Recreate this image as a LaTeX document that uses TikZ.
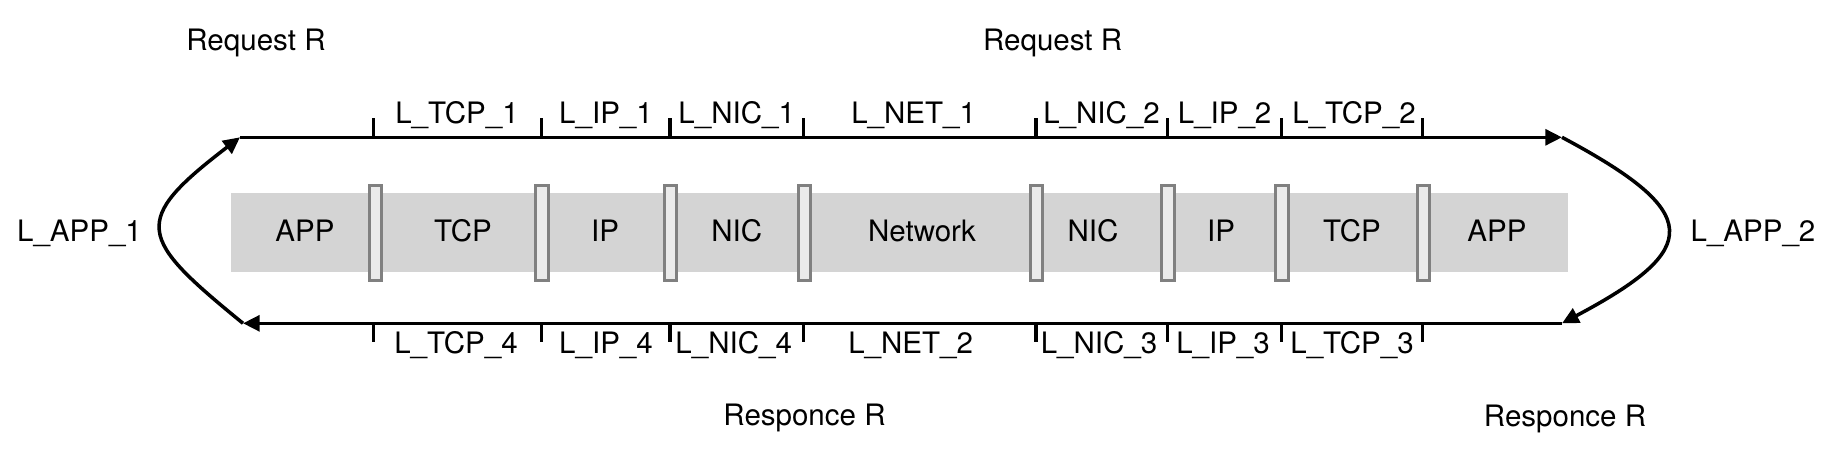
\documentclass[tikz,border=0pt]{standalone}
\usepackage{fontspec}
\setmainfont{TeX Gyre Heros}
\usetikzlibrary{arrows.meta}
\definecolor{bandgray}{HTML}{D4D4D4}
\definecolor{sepfill}{HTML}{EBEBEB}
\definecolor{sepline}{HTML}{808080}
\begin{document}
\begin{tikzpicture}[x=0.02cm,y=-0.02cm,
  flow/.style={line width=2pt,-{Triangle[length=9.5pt,width=9pt]}},
  tickmark/.style={line width=2pt},
  sepbox/.style={draw=sepline,fill=sepfill,line width=1.7pt,minimum width=0.246cm,minimum height=1.91cm,inner sep=0pt},
  lbl/.style={anchor=base,inner sep=0pt,font=\fontsize{16.8}{20}\selectfont}]
 \useasboundingbox (0,0) rectangle (1834,458);
 % stack
 \fill[bandgray] (231,193) rectangle (1568,271.5);
 \node[sepbox] (sep1) at (375.5,233){};
 \node[sepbox] (sep2) at (542,233){};
 \node[sepbox] (sep3) at (670.7,233){};
 \node[sepbox] (sep4) at (804.4,233){};
 \node[sepbox] (sep5) at (1036.3,233){};
 \node[sepbox] (sep6) at (1168,233){};
 \node[sepbox] (sep7) at (1282,233){};
 \node[sepbox] (sep8) at (1423.3,233){};
 \node[lbl] (app1) at (305,241.7){APP};
 \node[lbl] (tcp1) at (463,241.7){TCP};
 \node[lbl] (ip1) at (605,241.7){IP};
 \node[lbl] (nic1) at (736.7,241.7){NIC};
 \node[lbl] (net) at (922,241.7){Network};
 \node[lbl] (nic2) at (1093,241.7){NIC};
 \node[lbl] (ip2) at (1221,241.7){IP};
 \node[lbl] (tcp2) at (1352,241.7){TCP};
 \node[lbl] (app2) at (1497,241.7){APP};
 % request / responce paths
 \coordinate (tl) at (240,137.3);
 \coordinate (tr) at (1562,137.3);
 \coordinate (br) at (1562,323.3);
 \coordinate (bl) at (243,323.3);
 \draw[flow] (tl) -- (tr);
 \draw[flow] (tr) .. controls (1703,212.5) and (1703,248.5) .. (br);
 \draw[flow] (br) -- (bl);
 \draw[flow] (bl) .. controls (138,237.6) and (130,221.4) .. (tl);
 \draw[tickmark] (373.3,137.3) -- (373.3,118) (541.7,137.3) -- (541.7,118)
   (670,137.3) -- (670,118) (803.5,137.3) -- (803.5,118)
   (1036,137.3) -- (1036,118) (1167.7,137.3) -- (1167.7,118)
   (1281.7,137.3) -- (1281.7,118) (1422.3,137.3) -- (1422.3,118);
 \draw[tickmark] (373.3,323.3) -- (373.3,341.5) (541.7,323.3) -- (541.7,341.5)
   (670,323.3) -- (670,341.5) (803.5,323.3) -- (803.5,341.5)
   (1036,323.3) -- (1036,341.5) (1167.7,323.3) -- (1167.7,341.5)
   (1281.7,323.3) -- (1281.7,341.5) (1422.3,323.3) -- (1422.3,341.5);
 % latencies
 \node[lbl] (ltcp1) at (457,123.3){L\_TCP\_1};
 \node[lbl] (lip1) at (606,123.3){L\_IP\_1};
 \node[lbl] (lnic1) at (736.7,123.3){L\_NIC\_1};
 \node[lbl] (lnet1) at (913.6,123.3){L\_NET\_1};
 \node[lbl] (lnic2) at (1101.5,123.3){L\_NIC\_2};
 \node[lbl] (lip2) at (1224.6,123.3){L\_IP\_2};
 \node[lbl] (ltcp2) at (1354,123.3){L\_TCP\_2};
 \node[lbl] (ltcp4) at (456,353.3){L\_TCP\_4};
 \node[lbl] (lip4) at (606,353.3){L\_IP\_4};
 \node[lbl] (lnic4) at (733.7,353.3){L\_NIC\_4};
 \node[lbl] (lnet2) at (910.6,353.3){L\_NET\_2};
 \node[lbl] (lnic3) at (1099,353.3){L\_NIC\_3};
 \node[lbl] (lip3) at (1223,353.3){L\_IP\_3};
 \node[lbl] (ltcp3) at (1352,353.3){L\_TCP\_3};
 \node[lbl] (lapp1) at (79.5,241.5){L\_APP\_1};
 \node[lbl] (lapp2) at (1753,241.5){L\_APP\_2};
 \node[lbl] (req1) at (256,50){Request R};
 \node[lbl] (req2) at (1052.6,50){Request R};
 \node[lbl] (resp1) at (804.5,425){Responce R};
 \node[lbl] (resp2) at (1565,426.7){Responce R};
\end{tikzpicture}
\end{document}
